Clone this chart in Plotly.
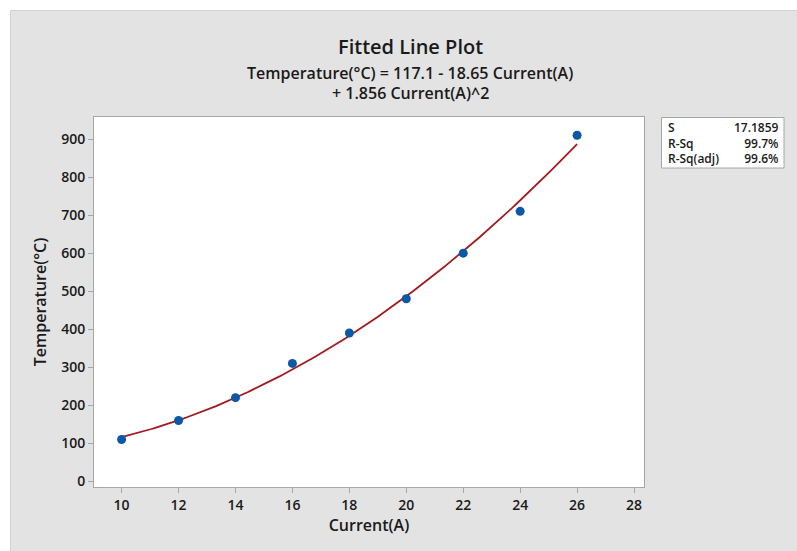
import numpy as np
import plotly.graph_objects as go

# Data
current = [10, 12, 14, 16, 18, 20, 22, 24, 26]
temperature = [110, 160, 220, 310, 390, 480, 600, 710, 910]

# Fitted regression coefficients (from the equation shown)
b0, b1, b2 = 117.1, -18.65, 1.856
stat_labels = ["S", "R-Sq", "R-Sq(adj)"]
stat_values = ["17.1859", "99.7%", "99.6%"]

x_ticks = [10, 12, 14, 16, 18, 20, 22, 24, 26, 28]
y_ticks = [0, 100, 200, 300, 400, 500, 600, 700, 800, 900]

FONT = "Open Sans"
TXT = "#1a1a1a"
GRAY = "#e3e3e3"
BORDER = "#a6a6a6"

xf = np.linspace(min(current), max(current), 200)
yf = b0 + b1 * xf + b2 * xf ** 2

fig = go.Figure()
fig.add_trace(go.Scatter(x=xf, y=yf, mode="lines",
                         line=dict(color="#a01a1e", width=1.8),
                         hoverinfo="skip", showlegend=False))
fig.add_trace(go.Scatter(x=current, y=temperature, mode="markers",
                         marker=dict(color="#0b58a8", size=9),
                         showlegend=False))

L, R, T, B = 94, 153, 117, 64
W, H = 797, 551
pw, ph = W - L - R, H - T - B

def px(x):
    return (x - L) / pw

def py(y):
    return (H - B - y) / ph

axis_common = dict(showline=True, mirror=True, linecolor=BORDER, linewidth=1,
                   ticks="outside", ticklen=5, tickcolor=BORDER, tickwidth=1,
                   showgrid=False, zeroline=False,
                   tickfont=dict(family=FONT, size=14, color=TXT, weight=600))

fig.update_layout(
    width=W, height=H,
    margin=dict(l=L, r=R, t=T, b=B),
    paper_bgcolor=GRAY, plot_bgcolor="white",
    xaxis=dict(range=[9.03, 28.35], tickvals=x_ticks,
               title=dict(text="Current(A)", standoff=6,
                          font=dict(family=FONT, size=16, color=TXT, weight=600)),
               **axis_common),
    yaxis=dict(range=[-15, 958], tickvals=y_ticks,
               title=dict(text="Temperature(°C)", standoff=10,
                          font=dict(family=FONT, size=16, color=TXT, weight=600)),
               **axis_common),
)

shapes = [
    # white strips outside the gray panel
    dict(type="rect", xref="paper", yref="paper", x0=px(-20), x1=px(820),
         y0=py(10), y1=py(-20), fillcolor="white", line=dict(width=0), layer="above"),
    dict(type="rect", xref="paper", yref="paper", x0=px(-20), x1=px(10),
         y0=py(580), y1=py(-20), fillcolor="white", line=dict(width=0), layer="above"),
    dict(type="line", xref="paper", yref="paper", x0=px(10.5), x1=px(10.5),
         y0=py(580), y1=py(10), line=dict(color="#d2d2d2", width=1), layer="above"),
    dict(type="line", xref="paper", yref="paper", x0=px(10), x1=px(820),
         y0=py(10.5), y1=py(10.5), line=dict(color="#d2d2d2", width=1), layer="above"),
    # stats box
    dict(type="rect", xref="paper", yref="paper", x0=px(661.5), x1=px(784),
         y0=py(168), y1=py(117.5), fillcolor="white",
         line=dict(color=BORDER, width=1), layer="above"),
]
fig.update_layout(shapes=shapes)

ann = []
ann.append(dict(text="Fitted Line Plot", x=px(410), y=py(47), xref="paper", yref="paper",
                showarrow=False, xanchor="center", yanchor="middle",
                font=dict(family=FONT, size=20, color=TXT, weight=600)))
ann.append(dict(text="Temperature(°C) = 117.1 - 18.65 Current(A)", x=px(410), y=py(73),
                xref="paper", yref="paper", showarrow=False, xanchor="center", yanchor="middle",
                font=dict(family=FONT, size=16, color=TXT, weight=600)))
ann.append(dict(text="+ 1.856 Current(A)^2", x=px(410), y=py(93),
                xref="paper", yref="paper", showarrow=False, xanchor="center", yanchor="middle",
                font=dict(family=FONT, size=16, color=TXT, weight=600)))
# stats table: one left-aligned block of labels, one right-aligned block of values
ann.append(dict(text="<br>".join(stat_labels), x=px(667), y=py(142.5), xref="paper", yref="paper",
                showarrow=False, xanchor="left", yanchor="middle", align="left", borderpad=0,
                font=dict(family=FONT, size=12, color=TXT, weight=600)))
ann.append(dict(text="<br>".join(stat_values), x=px(780), y=py(142.5), xref="paper", yref="paper",
                showarrow=False, xanchor="right", yanchor="middle", align="right", borderpad=0,
                font=dict(family=FONT, size=12, color=TXT, weight=600)))
fig.update_layout(annotations=ann)

fig.write_html("out.html", config={"displayModeBar": False},
               post_script="document.body.style.margin='0px';document.body.style.overflow='hidden';")
